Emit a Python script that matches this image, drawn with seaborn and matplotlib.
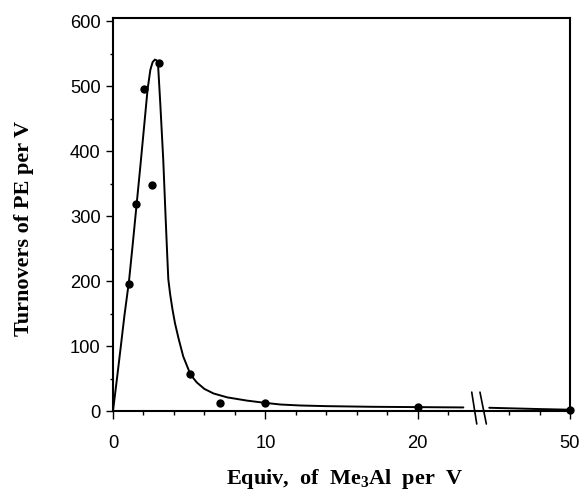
import numpy as np
import matplotlib
matplotlib.use("Agg")
import matplotlib.pyplot as plt
import seaborn as sns

# ---- data ----
pts_x = [1.05, 1.5, 2.03, 2.53, 3.0, 5.05, 7.05, 10.0, 20.0, 50.0]
pts_y = [195, 318, 495, 348, 536, 57, 13, 12, 6, 2]

curve_left_x = [0, 0.25, 0.5, 0.75, 1.05, 1.3, 1.55, 1.8, 2.05, 2.27, 2.45, 2.6, 2.75, 2.85, 2.95,
                3.1, 3.3, 3.45, 3.55, 3.63, 3.75, 3.9, 4.07, 4.3, 4.61, 5.09, 5.5, 6.0, 6.6, 7.5,
                8.8, 10.0, 11.0, 12.3, 14.0, 17.0, 20.0, 23.0]
curve_left_y = [0, 48, 97, 147, 200, 258, 318, 378, 440, 495, 525, 537, 541, 540, 536,
                475, 386, 300, 245, 203, 180, 157, 135, 112, 84, 56, 44, 34, 27, 21,
                16, 12.5, 10, 8.5, 7.5, 6.5, 6, 5.5]
curve_right_x = [44.7, 46.0, 48.0, 50.0]
curve_right_y = [5.0, 4.2, 3.0, 2.0]

xticks = [0, 10, 20, 50]
xtick_labels = ["0", "10", "20", "50"]
xminor = [2, 4, 6, 8, 12, 14, 16, 18, 22, 46, 48]
yticks = [0, 100, 200, 300, 400, 500, 600]
yminor = [50, 150, 250, 350, 450, 550]

sns.set_theme(style="ticks")
plt.rcParams["font.family"] = ["Liberation Sans", "DejaVu Sans"]
plt.rcParams["text.color"] = "black"
plt.rcParams["axes.labelcolor"] = "black"
plt.rcParams["xtick.color"] = "black"
plt.rcParams["ytick.color"] = "black"
plt.rcParams["axes.edgecolor"] = "black"
plt.rcParams["mathtext.fontset"] = "custom"
plt.rcParams["mathtext.rm"] = "Liberation Serif:bold"
plt.rcParams["mathtext.bf"] = "Liberation Serif:bold"
plt.rcParams["mathtext.it"] = "Liberation Serif:bold"


def fwd(x):
    x = np.asarray(x, dtype=float)
    return np.where(x <= 24, x, np.where(x >= 44, x - 20, 24.0))


def inv(d):
    d = np.asarray(d, dtype=float)
    return np.where(d <= 24, d, d + 20)


fig = plt.figure(figsize=(5.84, 4.93), dpi=100)
fig.patch.set_facecolor("white")
ax = fig.add_axes([0.1935, 0.1663, 0.7825, 0.7972])
ax.set_facecolor("white")
ax.set_xscale("function", functions=(fwd, inv))

sns.lineplot(x=curve_left_x, y=curve_left_y, ax=ax, color="black", linewidth=1.4,
             sort=False, estimator=None)
sns.lineplot(x=curve_right_x, y=curve_right_y, ax=ax, color="black", linewidth=1.4,
             sort=False, estimator=None)
sns.scatterplot(x=pts_x, y=pts_y, ax=ax, color="black", s=36, linewidth=0, zorder=3,
                clip_on=False)

ax.set_xlim(0, 50)
ax.set_ylim(0, 605)
ax.set_xticks(xticks)
ax.set_xticklabels(xtick_labels)
ax.set_xticks(xminor, minor=True)
ax.set_yticks(yticks)
ax.set_yticks(yminor, minor=True)

for s in ax.spines.values():
    s.set_visible(True)
    s.set_linewidth(1.5)
    s.set_color("black")

ax.tick_params(axis="x", which="major", direction="out", length=6, width=1.0,
               pad=11, labelsize=13.2, colors="black")
ax.tick_params(axis="x", which="minor", direction="out", length=3, width=1.0, colors="black")
ax.tick_params(axis="y", which="major", direction="out", length=5, width=1.0,
               pad=4, labelsize=13.2, colors="black")
ax.tick_params(axis="y", which="minor", direction="out", length=2.5, width=1.0, colors="black")

# axis break marks
for x0, x1 in [(0.785, 0.796), (0.803, 0.817)]:
    ax.plot([x0, x1], [0.048, -0.033], transform=ax.transAxes, color="black",
            linewidth=1.2, clip_on=False)

ax.set_xlabel(r"Equiv,  of  Me$_3$Al  per  V", fontsize=16, fontweight="bold",
              family="Liberation Serif", color="black")
ax.xaxis.label.set_va("center")
ax.xaxis.set_label_coords((345 - 113) / 457, -(479 - 411) / 393)
ax.set_ylabel("Turnovers of PE per V", fontsize=16, fontweight="bold",
              family="Liberation Serif", color="black")
ax.yaxis.label.set_va("center")
ax.yaxis.set_label_coords(-(113 - 24) / 457, (411 - 228) / 393)

fig.savefig("out.png", dpi=100, facecolor="white")
